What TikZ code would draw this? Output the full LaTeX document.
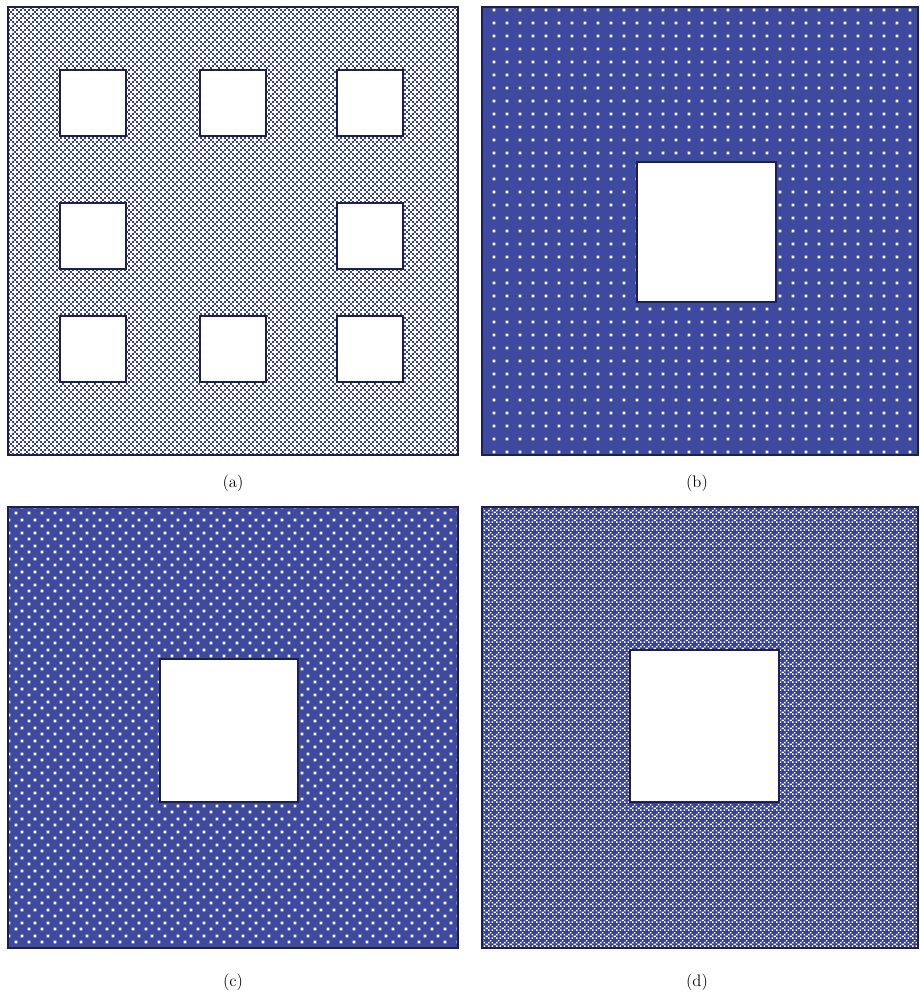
\documentclass[tikz,border=0pt]{standalone}
\usetikzlibrary{patterns.meta}
\definecolor{pblue}{RGB}{62,74,160}
\definecolor{cblue}{RGB}{52,64,168}
\definecolor{navy}{RGB}{28,32,78}
\newcommand{\cellsq}[3]{\fill[#3] (#1*1.5pt-0.25pt,#2*1.5pt-0.25pt) rectangle ++(2pt,2pt);}
\newcommand{\cellsm}[3]{\fill[#3] (#1*1.5pt+0.15pt,#2*1.5pt+0.15pt) rectangle ++(1.2pt,1.2pt);}
\tikzdeclarepattern{
  name=pata, type=colored,
  bottom left={(-0.5pt,-0.5pt)}, top right={(6.5pt,6.5pt)}, tile size={(6pt,6pt)},
  code={
    \cellsq{0}{0}{cblue}\cellsq{2}{0}{cblue}\cellsq{0}{2}{cblue}
    \cellsq{2}{2}{cblue}\cellsq{1}{3}{cblue}\cellsq{3}{1}{cblue}
  }
}
\tikzdeclarepattern{
  name=patd, type=colored,
  bottom left={(0pt,0pt)}, top right={(6pt,6pt)}, tile size={(6pt,6pt)},
  code={
    \cellsm{0}{0}{white}\cellsm{2}{0}{white}\cellsm{0}{2}{white}
    \cellsm{2}{2}{white}\cellsm{1}{3}{white}\cellsm{3}{1}{white}
  }
}
\tikzdeclarepattern{
  name=patb, type=colored,
  bottom left={(0pt,0pt)}, top right={(9.375pt,9.375pt)}, tile size={(9.375pt,9.375pt)},
  code={
    \fill[white] (3.6pt,3.6pt) rectangle (5.8pt,5.8pt);
  }
}
\tikzdeclarepattern{
  name=patc, type=colored,
  bottom left={(0pt,0pt)}, top right={(9.375pt,9.375pt)}, tile size={(9.375pt,9.375pt)},
  code={
    \fill[white] (1.3pt,1.3pt) rectangle (3.4pt,3.4pt);
    \fill[white] (6pt,6pt) rectangle (8.1pt,8.1pt);
  }
}
\tikzset{
  panel/.style={draw=navy, line width=1.4pt},
  hole/.style={fill=white, draw=navy, line width=1.7pt},
  caption/.style={font=\fontsize{12.5}{15}\selectfont, inner sep=0pt}
}
\begin{document}
\begin{tikzpicture}[x=0.75pt, y=-0.75pt]
\useasboundingbox (0,0) rectangle (920,995);
% panel (a)
\fill[white] (8,7) rectangle (458,455);
\fill[pattern={pata}] (8,7) rectangle (458,455);
\draw[panel] (8,7) rectangle (458,455);
\foreach \x/\y in {60/70, 200/70, 337/70, 60/203, 337/203, 60/316, 200/316, 337/316}
  \path[hole] (\x,\y) rectangle ++(66,66);
\node[caption] (la) at (233,483) {(a)};
% panel (b)
\fill[pblue] (482,7) rectangle (918,455);
\fill[pattern={patb}] (482,7) rectangle (918,455);
\draw[panel] (482,7) rectangle (918,455);
\path[hole] (637,162) rectangle (776,302);
\node[caption] (lb) at (697,483) {(b)};
% panel (c)
\fill[pblue] (8,507) rectangle (458,948);
\fill[pattern={patc}] (8,507) rectangle (458,948);
\draw[panel] (8,507) rectangle (458,948);
\path[hole] (160,659) rectangle (298,802);
\node[caption] (lc) at (233,982) {(c)};
% panel (d)
\fill[cblue] (482,507) rectangle (918,948);
\fill[pattern={patd}] (482,507) rectangle (918,948);
\draw[panel] (482,507) rectangle (918,948);
\path[hole] (630,650) rectangle (779,802);
\node[caption] (ld) at (697,982) {(d)};
\end{tikzpicture}
\end{document}
